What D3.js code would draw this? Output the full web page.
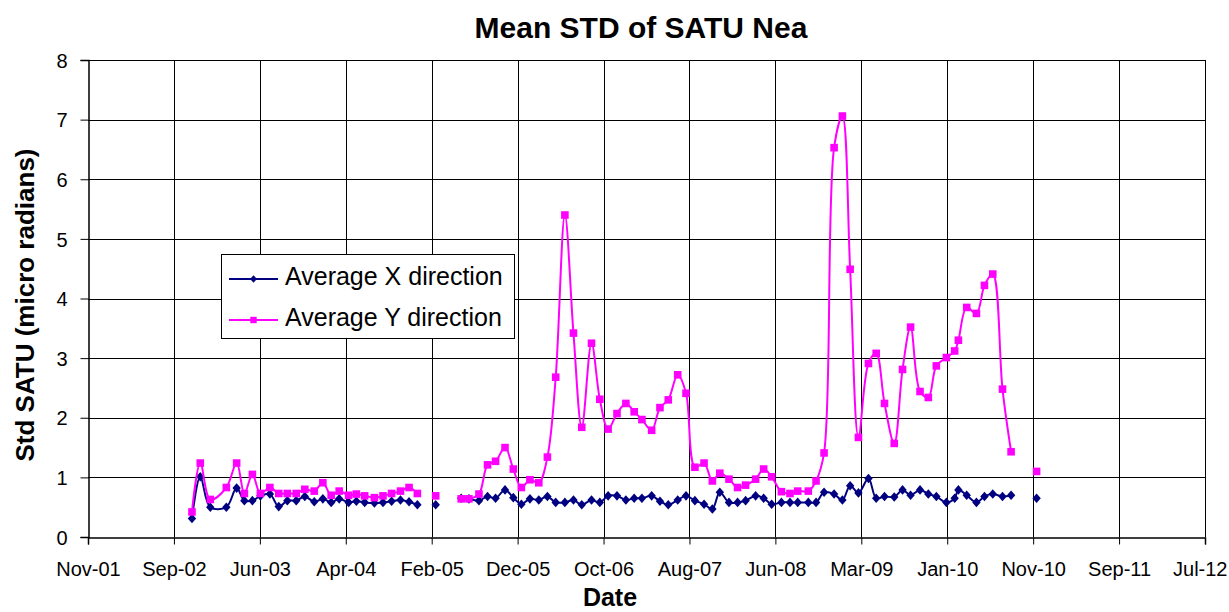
<!DOCTYPE html>
<html>
<head>
<meta charset="utf-8">
<script src="https://cdn.jsdelivr.net/npm/d3@7"></script>
<style>
  body { margin: 0; background: #fff; }
  svg { display: block; font-family: "Liberation Sans", Arial, sans-serif; }
  .tick-label { font-size: 20px; fill: #000; }
  .axis-title { font-size: 25px; font-weight: bold; fill: #000; }
  .title { font-size: 30px; font-weight: bold; fill: #000; }
  .legend-text { font-size: 25px; fill: #000; }
</style>
</head>
<body>
<div id="chart"></div>
<script>
// Data (null = missing month, breaks the line)
const dates = [
  "2002-11-04", "2002-12-03", "2003-01-07", "2003-03-04", "2003-04-09", "2003-05-06",
  "2003-06-03", "2003-07-01", "2003-08-03", "2003-09-03", "2003-10-03", "2003-11-03",
  "2003-12-03", "2004-01-05", "2004-02-04", "2004-03-04", "2004-04-01", "2004-05-04",
  "2004-05-31", "2004-06-29", "2004-08-02", "2004-09-01", "2004-10-01", "2004-11-01",
  "2004-12-01", "2004-12-30", "2005-01-31", "2005-03-04", "2005-04-15",
  "2005-06-01", "2005-06-28", "2005-08-02", "2005-09-01", "2005-09-29", "2005-11-01",
  "2005-11-30", "2005-12-28", "2006-01-27", "2006-02-27", "2006-03-29", "2006-04-27",
  "2006-05-29", "2006-06-28", "2006-07-27", "2006-08-30", "2006-09-28", "2006-10-27",
  "2006-11-27", "2006-12-28", "2007-01-26", "2007-02-22", "2007-03-28", "2007-04-26",
  "2007-05-25", "2007-06-27", "2007-07-26", "2007-08-26", "2007-09-27", "2007-10-26",
  "2007-11-21", "2007-12-23", "2008-01-22", "2008-02-19", "2008-03-25", "2008-04-22",
  "2008-05-20", "2008-06-23", "2008-07-23", "2008-08-19", "2008-09-25", "2008-10-22",
  "2008-11-19", "2008-12-24", "2009-01-22", "2009-02-18", "2009-03-19", "2009-04-23",
  "2009-05-20", "2009-06-18", "2009-07-22", "2009-08-20", "2009-09-17", "2009-10-20",
  "2009-11-18", "2009-12-16", "2010-01-20", "2010-02-18", "2010-03-03", "2010-04-01",
  "2010-05-05", "2010-06-02", "2010-07-01", "2010-08-04", "2010-09-03", "2010-10-15",
  "2010-12-01"
];

const avgX = [
  0.31, 1.01, 0.50, 0.50, 0.82, 0.61,
  0.61, 0.69, 0.72, 0.51, 0.61, 0.61,
  0.68, 0.59, 0.64, 0.58, 0.64, 0.58,
  0.60, 0.58, 0.57, 0.58, 0.60, 0.62,
  0.59, 0.54, null, 0.54, null,
  0.65, 0.64, 0.61, 0.68, 0.65, 0.79,
  0.66, 0.55, 0.64, 0.62, 0.68, 0.58,
  0.58, 0.62, 0.54, 0.62, 0.58, 0.69,
  0.69, 0.62, 0.65, 0.65, 0.69, 0.60,
  0.54, 0.62, 0.69, 0.61, 0.55, 0.47,
  0.75, 0.58, 0.58, 0.61, 0.69, 0.65,
  0.55, 0.58, 0.58, 0.58, 0.58, 0.58,
  0.75, 0.72, 0.62, 0.86, 0.74, 0.98,
  0.65, 0.68, 0.67, 0.79, 0.70, 0.79,
  0.72, 0.68, 0.58, 0.65, 0.79, 0.70,
  0.58, 0.68, 0.72, 0.68, 0.70, null,
  0.65
];

const avgY = [
  0.42, 1.24, 0.63, 0.83, 1.24, 0.73,
  1.05, 0.73, 0.83, 0.73, 0.73, 0.73,
  0.80, 0.77, 0.91, 0.70, 0.77, 0.70,
  0.72, 0.69, 0.66, 0.69, 0.73, 0.77,
  0.83, 0.73, null, 0.69, null,
  0.64, 0.64, 0.72, 1.21, 1.27, 1.50,
  1.14, 0.83, 0.96, 0.91, 1.34, 2.68,
  5.40, 3.42, 1.84, 3.25, 2.31, 1.81,
  2.07, 2.24, 2.10, 1.97, 1.79, 2.17,
  2.30, 2.72, 2.41, 1.17, 1.24, 0.94,
  1.07, 0.97, 0.83, 0.87, 0.97, 1.14,
  1.01, 0.76, 0.73, 0.77, 0.77, 0.94,
  1.41, 6.53, 7.06, 4.49, 1.67, 2.91,
  3.08, 2.24, 1.57, 2.81, 3.52, 2.44,
  2.34, 2.87, 3.01, 3.12, 3.30, 3.85,
  3.75, 4.22, 4.41, 2.48, 1.43, null,
  1.10
];

const seriesNames = ["Average X direction", "Average Y direction"];
const xTickLabels = ["Nov-01", "Sep-02", "Jun-03", "Apr-04", "Feb-05", "Dec-05", "Oct-06",
  "Aug-07", "Jun-08", "Mar-09", "Jan-10", "Nov-10", "Sep-11", "Jul-12"];
const yTicks = [0, 1, 2, 3, 4, 5, 6, 7, 8];

// Layout
const W = 1229, H = 612;
const plot = { left: 88, right: 1205, top: 60, bottom: 537 };

const svg = d3.select("#chart").append("svg")
  .attr("width", W)
  .attr("height", H);

const parse = d3.timeParse("%Y-%m-%d");
const axisStart = parse("2001-11-06");
const tickDates = xTickLabels.map((d, i) => d3.timeDay.offset(axisStart, 300 * i));

const x = d3.scaleTime()
  .domain([axisStart, tickDates[tickDates.length - 1]])
  .range([plot.left, plot.right]);

const y = d3.scaleLinear()
  .domain([0, 8])
  .range([plot.bottom, plot.top]);

const rows = dates.map((d, i) => ({ date: parse(d), x: avgX[i], y: avgY[i] }));

// Gridlines
svg.append("g")
  .selectAll("line")
  .data(yTicks.filter(d => d > 0))
  .join("line")
  .attr("x1", plot.left).attr("x2", plot.right)
  .attr("y1", d => Math.round(y(d)) + 0.5).attr("y2", d => Math.round(y(d)) + 0.5)
  .attr("stroke", "#000").attr("stroke-width", 1);

svg.append("g")
  .selectAll("line")
  .data(tickDates.slice(1))
  .join("line")
  .attr("x1", d => Math.round(x(d)) + 0.5).attr("x2", d => Math.round(x(d)) + 0.5)
  .attr("y1", plot.top).attr("y2", plot.bottom)
  .attr("stroke", "#000").attr("stroke-width", 1);

// Axes
const xAxis = svg.append("g")
  .attr("transform", `translate(0,${plot.bottom + 0.5})`)
  .call(d3.axisBottom(x).tickValues(tickDates).tickSize(7).tickFormat((d, i) => xTickLabels[i]));
xAxis.select(".domain").attr("stroke", "#000").attr("stroke-width", 1.5);
xAxis.selectAll(".tick line").attr("stroke", "#000");
xAxis.selectAll(".tick text")
  .attr("class", "tick-label")
  .attr("y", 0).attr("dy", 0)
  .attr("transform", "translate(0,38)")
  .style("font-size", "20px")
  .style("font-family", "'Liberation Sans', Arial, sans-serif");
// keep the last label inside the window
xAxis.selectAll(".tick text")
  .filter((d, i) => i === xTickLabels.length - 1)
  .attr("text-anchor", "end")
  .attr("x", W - 2 - plot.right);

const yAxis = svg.append("g")
  .attr("transform", `translate(${plot.left + 0.5},0)`)
  .call(d3.axisLeft(y).tickValues(yTicks).tickSize(8).tickFormat(d3.format("d")));
yAxis.select(".domain").attr("stroke", "#000").attr("stroke-width", 1.5);
yAxis.selectAll(".tick line").attr("stroke", "#000");
yAxis.selectAll(".tick text")
  .attr("x", -21).attr("dy", "0.36em")
  .style("font-size", "20px")
  .style("font-family", "'Liberation Sans', Arial, sans-serif");

// Series
const curve = d3.curveCatmullRom.alpha(0.5);
const lineX = d3.line().defined(d => d.x != null).x(d => x(d.date)).y(d => y(d.x)).curve(curve);
const lineY = d3.line().defined(d => d.y != null).x(d => x(d.date)).y(d => y(d.y)).curve(curve);

const diamond = "M0,-4.8L4.2,0L0,4.8L-4.2,0Z";
const square = "M-3.8,-3.8H3.8V3.8H-3.8Z";

svg.append("path")
  .datum(rows)
  .attr("d", lineX)
  .attr("fill", "none")
  .attr("stroke", "#000080")
  .attr("stroke-width", 2);

svg.append("g")
  .selectAll("path")
  .data(rows.filter(d => d.x != null))
  .join("path")
  .attr("transform", d => `translate(${x(d.date)},${y(d.x)})`)
  .attr("d", diamond)
  .attr("fill", "#000080");

svg.append("path")
  .datum(rows)
  .attr("d", lineY)
  .attr("fill", "none")
  .attr("stroke", "#FF00FF")
  .attr("stroke-width", 2);

svg.append("g")
  .selectAll("path")
  .data(rows.filter(d => d.y != null))
  .join("path")
  .attr("transform", d => `translate(${x(d.date)},${y(d.y)})`)
  .attr("d", square)
  .attr("fill", "#FF00FF");

// Titles
svg.append("text")
  .attr("class", "title")
  .attr("x", 641).attr("y", 38)
  .attr("text-anchor", "middle")
  .text("Mean STD of SATU Nea");

svg.append("text")
  .attr("class", "axis-title")
  .attr("x", 610).attr("y", 606)
  .attr("text-anchor", "middle")
  .text("Date");

svg.append("text")
  .attr("class", "axis-title")
  .attr("transform", "translate(34,305) rotate(-90)")
  .attr("text-anchor", "middle")
  .style("font-size", "26px")
  .text("Std SATU (micro radians)");

// Legend
const legend = svg.append("g");
legend.append("rect")
  .attr("x", 221.5).attr("y", 254.5)
  .attr("width", 293).attr("height", 84)
  .attr("fill", "#fff")
  .attr("stroke", "#000").attr("stroke-width", 1);

const legendColors = ["#000080", "#FF00FF"];
const legendShapes = ["M0,-3.8L3.4,0L0,3.8L-3.4,0Z", "M-3.2,-3.2H3.2V3.2H-3.2Z"];
const item = legend.selectAll(".item")
  .data(seriesNames)
  .join("g")
  .attr("transform", (d, i) => `translate(0,${279 + i * 41})`);
item.append("line")
  .attr("x1", 229).attr("x2", 278)
  .attr("stroke", (d, i) => legendColors[i]).attr("stroke-width", 2);
item.append("path")
  .attr("transform", "translate(253.5,0)")
  .attr("d", (d, i) => legendShapes[i])
  .attr("fill", (d, i) => legendColors[i]);
item.append("text")
  .attr("class", "legend-text")
  .attr("x", 285).attr("y", 5.5)
  .text(d => d);
</script>
</body>
</html>
